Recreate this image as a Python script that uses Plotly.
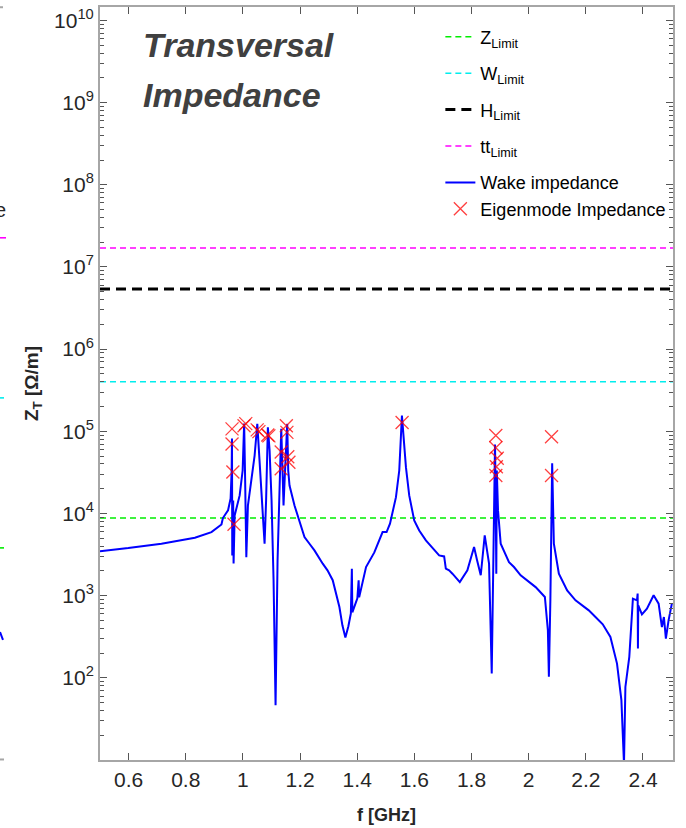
import plotly.graph_objects as go

# ---------------------------------------------------------------- data
FREQ_RANGE = [0.5, 2.505]          # GHz
LOG_Z_RANGE = [1, 10.163]          # log10 of Ohm/m

LIMIT_NAMES = ["Z<sub>Limit</sub>", "W<sub>Limit</sub>", "H<sub>Limit</sub>", "tt<sub>Limit</sub>"]
LIMIT_VALUES = [8.8e3, 4.0e5, 5.4e6, 1.7e7]

WAKE_FREQ = [
    0.500, 0.599, 0.715, 0.773, 0.832, 0.890, 0.925, 0.930, 0.948, 0.957, 0.9607, 0.9618,
    0.9628, 0.9660, 0.9674, 0.9712, 0.9887, 0.9991, 1.0044, 1.0079, 1.0120, 1.0176,
    1.0305, 1.0410, 1.0504, 1.0585, 1.0690, 1.0759, 1.0812, 1.0874, 1.0934, 1.1003,
    1.1073, 1.1143, 1.1213, 1.1283, 1.1342, 1.1387, 1.1422, 1.1475, 1.1551, 1.1586,
    1.1632, 1.1806, 1.1980, 1.2155, 1.2330, 1.2504, 1.2794, 1.2960, 1.3143, 1.3377, 1.3482,
    1.3586, 1.3691, 1.3778, 1.3813, 1.3830, 1.4005, 1.4050, 1.4068, 1.4309, 1.4599,
    1.4888, 1.5028, 1.5147, 1.5356, 1.5471, 1.5565, 1.5628, 1.5705, 1.5820, 1.5995,
    1.6170, 1.6403, 1.6867, 1.7042, 1.7101, 1.7216, 1.7332, 1.7590, 1.7855, 1.8089,
    1.8194, 1.8323, 1.8462, 1.8613, 1.8707, 1.8770, 1.8822, 1.8846, 1.8867, 1.8885,
    1.8927, 1.9021, 1.9311, 1.9485, 1.9719, 2.0243, 2.0567, 2.0672, 2.0707, 2.0759,
    2.0822, 2.0864, 2.0881, 2.1056, 2.1346, 2.1639, 2.2103, 2.2337, 2.2592, 2.2860,
    2.3091, 2.3244, 2.3335, 2.3384, 2.3521, 2.3647, 2.3789, 2.3813, 2.3823, 2.3834,
    2.3963, 2.4138, 2.4372, 2.4547, 2.4662, 2.4732, 2.4801, 2.4895, 2.5010,
]
WAKE_Z = [
    3480, 3790, 4280, 4640, 5070, 5930, 7350, 8800, 10900, 15200, 33300, 81500,
    3090, 14400, 2470, 9460, 16600, 33300, 124000, 25200, 2940, 12500,
    25200, 50700, 123000, 44100, 9460, 4280, 14400, 112000, 58200, 14400,
    1540, 46.5, 2690, 25200, 107000, 33300, 12500, 33300, 123000, 33300,
    21900, 12500, 7780, 5150, 4280, 3550, 2450, 2030, 1540, 728, 435,
    309, 424, 609, 2130, 627, 927, 1540, 953, 2230, 3360,
    5930, 5930, 7500, 15800, 33300, 155000, 77100, 36600, 16600, 8220,
    6210, 4700, 3090, 3000, 2130, 2030, 1850, 1460, 2030, 3900,
    2690, 1770, 5410, 2450, 113, 8220, 69000, 14400, 1850, 33300,
    10900, 4280, 2560, 2230, 1770, 1270, 962, 378, 103, 877,
    40800, 8220, 4280, 1850, 1160, 877, 662, 549, 448, 314,
    149, 53.5, 9, 77.4, 180, 920, 877, 1060, 227, 762,
    593, 695, 1010, 800, 415, 549, 300, 501, 800,
]

EIGEN_FREQ = [0.962, 0.962, 0.965, 0.969, 1.004, 1.010, 1.050, 1.056, 1.087, 1.091,
              1.134, 1.134, 1.152, 1.154, 1.157, 1.161, 1.557,
              1.885, 1.885, 1.890, 1.887, 1.885, 2.080, 2.080]
EIGEN_Z = [1.07e5, 7.0e4, 3.2e4, 7.4e3, 1.17e5, 1.24e5, 1.04e5, 9.9e4, 9.0e4, 8.8e4,
           5.6e4, 3.5e4, 1.17e5, 9.7e4, 4.9e4, 4.2e4, 1.28e5,
           8.9e4, 6.3e4, 4.7e4, 3.7e4, 2.9e4, 8.6e4, 2.9e4]

X_TICKS = [0.6, 0.8, 1.0, 1.2, 1.4, 1.6, 1.8, 2.0, 2.2, 2.4]
X_TICK_TEXT = ["0.6", "0.8", "1", "1.2", "1.4", "1.6", "1.8", "2", "2.2", "2.4"]
Y_EXPONENTS = [2, 3, 4, 5, 6, 7, 8, 9, 10]

# ---------------------------------------------------------------- styles
FONT = "Liberation Sans, Arial, sans-serif"
TEXT_COLOR = "#262626"
LIMIT_COLORS = ["#00ee00", "#00eeee", "#000000", "#ff00ff"]
LIMIT_WIDTHS = [1.6, 1.6, 3.0, 1.6]
LIMIT_DASHES = ["6px,4px", "6px,4px", "10px,6px", "6px,4px"]

fig = go.Figure()

for i, (name, value, color, width, dash) in enumerate(
        zip(LIMIT_NAMES, LIMIT_VALUES, LIMIT_COLORS, LIMIT_WIDTHS, LIMIT_DASHES)):
    fig.add_trace(go.Scatter(
        x=FREQ_RANGE, y=[value, value], mode="lines", name=name,
        legendgroup=f"limit{i}",
        line=dict(color=color, width=width, dash=dash),
    ))

fig.add_trace(go.Scatter(
    x=WAKE_FREQ, y=WAKE_Z, mode="lines", name="Wake impedance",
    legendgroup="impedance",
    line=dict(color="#0000ff", width=2),
))

fig.add_trace(go.Scatter(
    x=EIGEN_FREQ, y=EIGEN_Z, mode="markers", name="Eigenmode Impedance",
    legendgroup="impedance",
    marker=dict(symbol="x-thin", size=13, color="rgba(255,0,0,0.75)",
                line=dict(color="rgba(255,0,0,0.75)", width=1.3)),
))

axis_common = dict(
    showline=True, linecolor="#a6a6a6", linewidth=2, mirror="ticks",
    ticks="inside", tickcolor="#555555", tickwidth=1, ticklen=7,
    showgrid=False, zeroline=False,
)

fig.update_xaxes(
    range=FREQ_RANGE, tickvals=X_TICKS, ticktext=X_TICK_TEXT,
    tickfont=dict(family=FONT, size=21, color=TEXT_COLOR),
    title=dict(text="<b>f [GHz]</b>", font=dict(family=FONT, size=18, color=TEXT_COLOR),
               standoff=18),
    **axis_common,
)

# minor ticks at 2..9 times each decade
minor_vals = [m * 10 ** e for e in range(1, 11) for m in range(2, 10)]

fig.update_yaxes(
    type="log", range=LOG_Z_RANGE,
    tickvals=[10 ** e for e in Y_EXPONENTS],
    ticktext=[f"10<sup>{e}</sup>" for e in Y_EXPONENTS],
    tickfont=dict(family=FONT, size=21, color=TEXT_COLOR),
    minor=dict(ticks="inside", ticklen=4, tickcolor="#555555", tickmode="array",
               tickvals=minor_vals, showgrid=False),
    title=dict(text="<b>Z<sub>T</sub> [Ω/m]</b>",
               font=dict(family=FONT, size=19, color=TEXT_COLOR), standoff=10),
    **axis_common,
)

title_font = dict(family=FONT, size=34, color="#404040")
fig.add_annotation(
    xref="paper", yref="paper", x=0.072, y=0.978, xanchor="left", yanchor="top",
    text="<b><i>Transversal</i></b>", showarrow=False, font=title_font,
)
fig.add_annotation(
    xref="paper", yref="paper", x=0.072, y=0.911, xanchor="left", yanchor="top",
    text="<b><i>Impedance</i></b>", showarrow=False, font=title_font,
)

# edge of the adjacent panel on the left
edge_x0 = -0.1745
fig.add_shape(type="line", xref="paper", yref="paper", x0=edge_x0, x1=-0.1588,
              y0=0.6935, y1=0.6935, line=dict(color="#ff00ff", width=1.6, dash="6px,4px"))
fig.add_shape(type="line", xref="paper", yref="paper", x0=edge_x0, x1=-0.1675,
              y0=0.4809, y1=0.4809, line=dict(color="#00eeee", width=1.6))
fig.add_shape(type="line", xref="paper", yref="paper", x0=edge_x0, x1=-0.1675,
              y0=0.2817, y1=0.2817, line=dict(color="#00ee00", width=1.6))
fig.add_shape(type="line", xref="paper", yref="paper", x0=edge_x0, x1=-0.1693,
              y0=0.170, y1=0.1594, line=dict(color="#0000ff", width=2))
fig.add_shape(type="line", xref="paper", yref="paper", x0=edge_x0, x1=-0.1675,
              y0=0.0007, y1=0.0007, line=dict(color="#a6a6a6", width=2))
fig.add_shape(type="line", xref="paper", yref="paper", x0=edge_x0, x1=-0.1693,
              y0=0.9997, y1=0.9997, line=dict(color="#a6a6a6", width=2))
fig.add_annotation(xref="paper", yref="paper", x=-0.1606, y=0.7307, xanchor="right",
                   yanchor="middle", text="e", showarrow=False,
                   font=dict(family=FONT, size=20, color=TEXT_COLOR))

fig.update_layout(
    width=686, height=828,
    margin=dict(l=100, r=13, t=7, b=68, autoexpand=False),
    paper_bgcolor="white", plot_bgcolor="white",
    showlegend=True,
    legend=dict(
        x=0.594, y=0.9846, xanchor="left", yanchor="top",
        bgcolor="rgba(0,0,0,0)", borderwidth=0,
        font=dict(family=FONT, size=18, color="#000000"),
        itemwidth=30, tracegroupgap=10,
    ),
)

fig.write_html("out.html")
